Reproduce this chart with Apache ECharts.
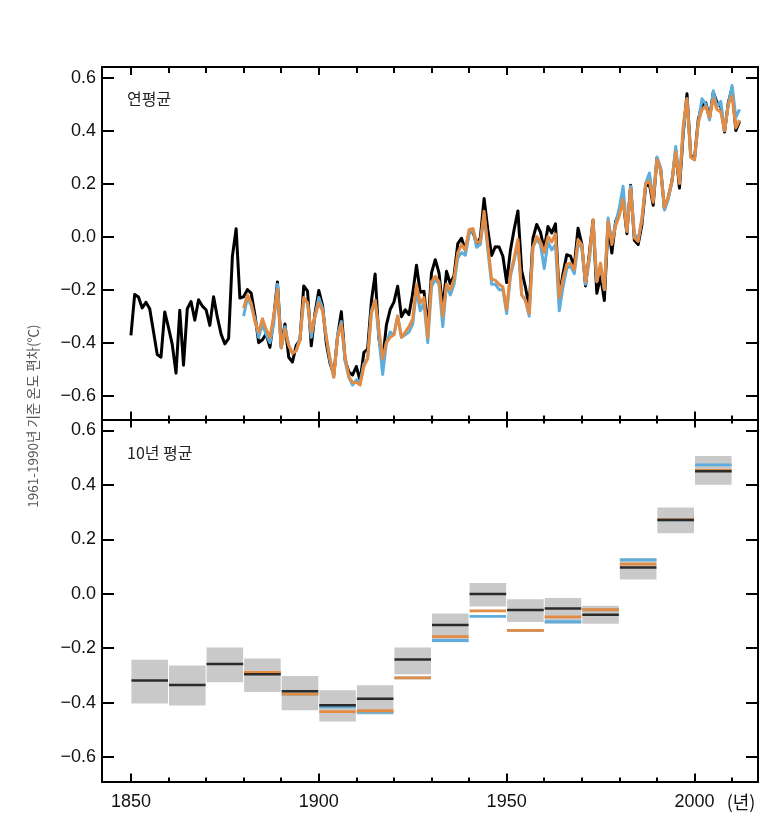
<!DOCTYPE html>
<html><head><meta charset="utf-8">
<script src="https://cdn.jsdelivr.net/npm/echarts@6/dist/echarts.min.js"></script>
<style>html,body{margin:0;padding:0;background:#fff}#c{width:781px;height:836px}</style>
</head><body><div id="c"></div>
<script>
// ---------- DATA ----------
// Annual means, first year of each series
const hadStart = 1850;
const hadcrut = [
-0.373,-0.218,-0.228,-0.269,-0.248,-0.272,-0.358,-0.445,-0.455,-0.284,
-0.343,-0.407,-0.515,-0.278,-0.485,-0.272,-0.245,-0.315,-0.238,-0.262,
-0.276,-0.335,-0.227,-0.304,-0.368,-0.405,-0.384,-0.075,0.030,-0.232,
-0.227,-0.200,-0.213,-0.296,-0.400,-0.389,-0.367,-0.418,-0.307,-0.171,
-0.416,-0.330,-0.455,-0.473,-0.410,-0.390,-0.186,-0.206,-0.412,-0.289,
-0.203,-0.259,-0.402,-0.479,-0.520,-0.377,-0.283,-0.465,-0.511,-0.522,
-0.490,-0.544,-0.437,-0.424,-0.244,-0.141,-0.383,-0.468,-0.333,-0.275,
-0.247,-0.187,-0.302,-0.276,-0.294,-0.215,-0.108,-0.210,-0.206,-0.350,
-0.137,-0.087,-0.137,-0.273,-0.131,-0.178,-0.147,-0.026,-0.006,-0.052,
0.014,0.020,-0.027,-0.004,0.144,0.025,-0.071,-0.038,-0.039,-0.074,
-0.173,-0.052,0.028,0.097,-0.129,-0.190,-0.267,-0.007,0.046,0.017,
-0.049,0.038,0.014,0.048,-0.223,-0.140,-0.068,-0.074,-0.113,0.032,
-0.027,-0.186,-0.065,0.062,-0.214,-0.149,-0.241,0.047,-0.062,0.057,
0.092,0.140,0.011,0.194,-0.014,-0.030,0.045,0.192,0.198,0.118,
0.296,0.254,0.105,0.148,0.208,0.325,0.183,0.390,0.539,0.306,
0.294,0.441,0.496,0.505,0.447,0.545,0.506,0.491,0.395,0.506,
0.560,0.400,0.435];

const otherStart = 1880;
const mlost = [
-0.27,-0.22,-0.25,-0.32,-0.36,-0.31,-0.35,-0.38,-0.30,-0.20,
-0.42,-0.35,-0.41,-0.44,-0.43,-0.39,-0.23,-0.25,-0.36,-0.30,
-0.25,-0.28,-0.38,-0.46,-0.53,-0.38,-0.33,-0.45,-0.53,-0.55,
-0.55,-0.56,-0.49,-0.46,-0.29,-0.24,-0.35,-0.46,-0.40,-0.38,
-0.37,-0.30,-0.38,-0.36,-0.34,-0.31,-0.18,-0.25,-0.23,-0.38,
-0.17,-0.15,-0.17,-0.30,-0.18,-0.20,-0.16,-0.06,-0.03,-0.05,
0.027,0.03,-0.02,-0.02,0.096,-0.036,-0.16,-0.165,-0.18,-0.19,
-0.275,-0.14,-0.08,-0.01,-0.22,-0.24,-0.29,-0.04,0.00,-0.02,
-0.06,0.00,-0.02,0.01,-0.23,-0.16,-0.105,-0.10,-0.125,-0.011,
-0.03,-0.17,-0.074,0.064,-0.17,-0.10,-0.20,0.058,-0.03,0.04,
0.08,0.14,0.02,0.18,-0.005,-0.018,0.07,0.20,0.21,0.13,
0.29,0.25,0.11,0.15,0.21,0.32,0.20,0.42,0.52,0.30,
0.29,0.43,0.48,0.49,0.45,0.52,0.48,0.47,0.40,0.50,
0.53,0.41,0.44];

const giss = [
-0.30,-0.23,-0.26,-0.31,-0.38,-0.33,-0.37,-0.40,-0.33,-0.18,
-0.42,-0.34,-0.41,-0.44,-0.43,-0.38,-0.24,-0.25,-0.38,-0.30,
-0.23,-0.27,-0.38,-0.47,-0.53,-0.37,-0.32,-0.47,-0.53,-0.56,
-0.54,-0.55,-0.48,-0.46,-0.28,-0.24,-0.38,-0.52,-0.40,-0.36,
-0.37,-0.30,-0.38,-0.37,-0.36,-0.33,-0.20,-0.28,-0.25,-0.40,
-0.19,-0.16,-0.18,-0.34,-0.18,-0.22,-0.18,-0.08,-0.06,-0.07,
0.01,0.03,-0.04,-0.03,0.08,-0.05,-0.18,-0.18,-0.20,-0.20,
-0.29,-0.15,-0.09,-0.02,-0.22,-0.24,-0.30,-0.04,-0.01,-0.03,
-0.12,-0.02,-0.05,-0.03,-0.28,-0.19,-0.12,-0.11,-0.14,-0.03,
-0.04,-0.18,-0.09,0.05,-0.17,-0.11,-0.20,0.07,-0.02,0.05,
0.11,0.19,0.02,0.19,0.01,-0.01,0.06,0.20,0.24,0.14,
0.30,0.26,0.10,0.14,0.21,0.34,0.21,0.40,0.52,0.30,
0.29,0.43,0.52,0.50,0.44,0.55,0.49,0.51,0.40,0.50,
0.57,0.45,0.48];

// Decadal means (decade start years)
const decadeStarts = [1850,1860,1870,1880,1890,1900,1910,1920,1930,1940,1950,1960,1970,1980,1990,2000];
const decHad  = [-0.319,-0.335,-0.258,-0.296,-0.358,-0.410,-0.386,-0.242,-0.115,-0.001,-0.060,-0.054,-0.077,0.096,0.271,0.450];
const decLow  = [-0.403,-0.411,-0.325,-0.361,-0.428,-0.470,-0.444,-0.296,-0.178,-0.047,-0.104,-0.110,-0.110,0.052,0.222,0.400];
const decHigh = [-0.243,-0.264,-0.198,-0.238,-0.302,-0.355,-0.336,-0.198,-0.073,0.039,-0.020,-0.016,-0.044,0.131,0.317,0.506];
const decStartsOther = [1880,1890,1900,1910,1920,1930,1940,1950,1960,1970,1980,1990,2000];
const decMlost = [-0.289,-0.369,-0.433,-0.430,-0.309,-0.158,-0.063,-0.135,-0.085,-0.059,0.109,0.272,0.453];
const decGiss  = [-0.292,-0.369,-0.416,-0.436,-0.309,-0.172,-0.083,-0.135,-0.103,-0.059,0.124,0.271,0.473];

// Tick values / labels
const decadeTicks = [1850,1860,1870,1880,1890,1900,1910,1920,1930,1940,1950,1960,1970,1980,1990,2000,2010];
const majorTicks = [1850,1900,1950,2000];
const yTicks = [-0.6,-0.4,-0.2,0,0.2,0.4,0.6];

// ---------- CHART ----------
const X_MIN = 1842.3, X_MAX = 2016.9, Y_MIN = -0.69, Y_MAX = 0.64;
const NUM_FONT = '"Liberation Sans", Arial, sans-serif';
const KR_FONT = '"Noto Sans CJK KR", "Noto Sans", sans-serif';
const BLACK = '#000', ORANGE = '#e38b42', BLUE = '#5daedd';

function xAx(grid, pos, ticks, len, labels) {
  return {
    type: 'value', gridIndex: grid, position: pos, min: X_MIN, max: X_MAX,
    axisLine: { show: true, onZero: false, lineStyle: { color: '#000', width: 2 } },
    axisTick: { show: true, inside: true, length: len, customValues: ticks, lineStyle: { color: '#000', width: 2 } },
    axisLabel: labels ? { show: true, customValues: majorTicks, margin: 12, fontSize: 18, color: '#111', fontFamily: NUM_FONT,
      formatter: v => String(Math.round(v)) } : { show: false },
    splitLine: { show: false }
  };
}
function yAx(grid, pos, labels) {
  return {
    type: 'value', gridIndex: grid, position: pos, min: Y_MIN, max: Y_MAX,
    axisLine: { show: true, onZero: false, lineStyle: { color: '#000', width: 2 } },
    axisTick: { show: true, inside: true, length: 12, customValues: yTicks, lineStyle: { color: '#000', width: 2 } },
    axisLabel: labels ? { show: true, customValues: yTicks, margin: 6, fontSize: 18, color: '#111', fontFamily: NUM_FONT,
      formatter: v => (v < -1e-9 ? '\u2212' : '') + Math.abs(v).toFixed(1) } : { show: false },
    splitLine: { show: false }
  };
}

function boxRender(params, api) {
  const s = api.value(0), lo = api.value(1), hi = api.value(2);
  const p1 = api.coord([s, hi]), p2 = api.coord([s + 10, lo]);
  return { type: 'rect', shape: { x: p1[0] + 0.5, y: p1[1], width: p2[0] - p1[0] - 1, height: p2[1] - p1[1] },
    style: { fill: '#c9c9c9' } };
}
function barRender(color, w) {
  return function (params, api) {
    const s = api.value(0), v = api.value(1);
    const a = api.coord([s, v]), b = api.coord([s + 10, v]);
    return { type: 'line', shape: { x1: a[0] + 0.5, y1: a[1], x2: b[0] - 0.5, y2: b[1] },
      style: { stroke: color, lineWidth: w } };
  };
}
function lineSeries(name, arr, start, color, w) {
  return { name, type: 'line', xAxisIndex: 0, yAxisIndex: 0, showSymbol: false, symbol: 'none',
    data: arr.map((v, i) => [start + i, v]), lineStyle: { color, width: w, join: 'round' }, animation: false };
}

const chart = echarts.init(document.getElementById('c'), null, { renderer: 'canvas' });
chart.setOption({
  animation: false,
  backgroundColor: '#fff',
  grid: [
    { left: 102, right: 23, top: 67, height: 352.5 },
    { left: 102, right: 23, top: 419.5, height: 362 }
  ],
  xAxis: [
    xAx(0, 'bottom', decadeTicks, 4, false),
    xAx(0, 'bottom', majorTicks, 8, false),
    xAx(0, 'top', decadeTicks, 6, false),
    xAx(0, 'top', majorTicks, 8, false),
    xAx(1, 'bottom', decadeTicks, 4, false),
    xAx(1, 'bottom', majorTicks, 8, true),
    xAx(1, 'top', decadeTicks, 4, false),
    xAx(1, 'top', majorTicks, 8, false)
  ],
  yAxis: [
    yAx(0, 'left', true),
    yAx(0, 'right', false),
    yAx(1, 'left', true),
    yAx(1, 'right', false)
  ],
  series: [
    lineSeries('HadCRUT4', hadcrut, hadStart, BLACK, 3),
    lineSeries('GISS', giss, otherStart, BLUE, 3),
    lineSeries('MLOST', mlost, otherStart, ORANGE, 3),
    { type: 'custom', xAxisIndex: 4, yAxisIndex: 2, renderItem: boxRender,
      data: decadeStarts.map((s, i) => [s, decLow[i], decHigh[i]]) },
    { type: 'custom', xAxisIndex: 4, yAxisIndex: 2, renderItem: barRender(BLUE, 2.8),
      data: decStartsOther.map((s, i) => [s, decGiss[i]]) },
    { type: 'custom', xAxisIndex: 4, yAxisIndex: 2, renderItem: barRender(ORANGE, 2.8),
      data: decStartsOther.map((s, i) => [s, decMlost[i]]) },
    { type: 'custom', xAxisIndex: 4, yAxisIndex: 2, renderItem: barRender('#2b2b2b', 2.5),
      data: decadeStarts.map((s, i) => [s, decHad[i]]) }
  ],
  graphic: [
    { type: 'text', left: 127, top: 91, style: { text: '연평균', fill: '#222', font: '16px ' + KR_FONT } },
    { type: 'text', left: 127, top: 445, style: { text: '10년 평균', fill: '#222', font: '16px ' + KR_FONT } },
    { type: 'text', x: 33, y: 416, rotation: Math.PI / 2,
      style: { text: '1961-1990년 기준 온도 편차(℃)', align: 'center', verticalAlign: 'middle', fill: '#555', font: '13.5px ' + KR_FONT } },
    { type: 'text', x: 741, y: 802,
      style: { text: '(년)', align: 'center', verticalAlign: 'middle', fill: '#111', font: '18px ' + KR_FONT } }
  ]
});
</script>
</body></html>
